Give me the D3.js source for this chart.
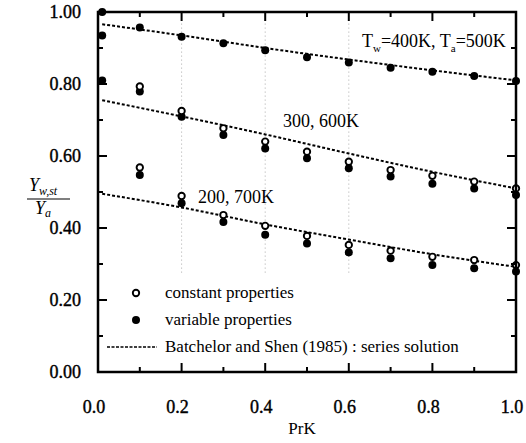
<!DOCTYPE html>
<html>
<head>
<meta charset="utf-8">
<script src="https://cdn.jsdelivr.net/npm/d3@7"></script>
<style>
  html, body { margin: 0; padding: 0; background: #fff; }
  svg { display: block; }
  text { font-family: "Liberation Serif", "Times New Roman", serif; fill: #000; }
</style>
</head>
<body>
<svg id="chart" width="526" height="443"></svg>
<script>
// ---- data ----
const prk = [0.01, 0.1, 0.2, 0.3, 0.4, 0.5, 0.6, 0.7, 0.8, 0.9, 1.0];

// Tw=400K, Ta=500K
const var400 = [1.00, 0.957, 0.931, 0.913, 0.894, 0.874, 0.860, 0.845, 0.834, 0.822, 0.808];
// Tw=300K, Ta=600K
const const300 = [null, 0.793, 0.725, 0.677, 0.640, 0.612, 0.584, 0.561, 0.545, 0.529, 0.510];
const var300 = [0.935, 0.779, 0.709, 0.658, 0.621, 0.594, 0.566, 0.543, 0.523, 0.510, 0.492];
// Tw=200K, Ta=700K
const const200 = [null, 0.568, 0.489, 0.436, 0.406, 0.378, 0.353, 0.337, 0.320, 0.311, 0.297];
const var200 = [0.81, 0.547, 0.469, 0.417, 0.381, 0.357, 0.332, 0.316, 0.297, 0.288, 0.279];

// Batchelor and Shen (1985) series solution
const lineX = [0.01, 0.2, 0.4, 0.6, 0.8, 1.0];
const line400 = [0.966, 0.935, 0.900, 0.868, 0.838, 0.810];
const line300 = [0.755, 0.710, 0.660, 0.607, 0.556, 0.510];
const line200 = [0.495, 0.457, 0.410, 0.368, 0.327, 0.292];

const xTicks = [0.0, 0.2, 0.4, 0.6, 0.8, 1.0];
const yTicks = [0.00, 0.20, 0.40, 0.60, 0.80, 1.00];
const xMinor = [0.1, 0.3, 0.5, 0.7, 0.9];
const gridX = [0.2, 0.4, 0.6];

const legendItems = ["constant properties", "variable properties", "Batchelor and Shen (1985) : series solution"];

// ---- layout ----
const svg = d3.select("#chart");
const L = 98, R = 516, T = 12, B = 372;
const x = d3.scaleLinear().domain([0, 1]).range([L, R]);
const y = d3.scaleLinear().domain([0, 1]).range([B, T]);

// faint gridlines
svg.append("g").selectAll("line").data(gridX).join("line")
  .attr("x1", d => x(d)).attr("x2", d => x(d))
  .attr("y1", y(0.99)).attr("y2", y(0.27))
  .attr("stroke", "#aaa").attr("stroke-width", 1)
  .attr("stroke-dasharray", "1,3");

// series lines
const lineGen = d3.line().x(d => x(d[0])).y(d => y(d[1])).curve(d3.curveMonotoneX);
[line400, line300, line200].forEach(arr => {
  svg.append("path")
    .attr("d", lineGen(lineX.map((v, i) => [v, arr[i]])))
    .attr("fill", "none").attr("stroke", "#000")
    .attr("stroke-width", 2).attr("stroke-dasharray", "3,2");
});

// points
function pts(arr) { return prk.map((v, i) => [v, arr[i]]).filter(d => d[1] != null); }
[var400, var300, var200].forEach(arr => {
  svg.append("g").selectAll("circle").data(pts(arr)).join("circle")
    .attr("cx", d => x(d[0])).attr("cy", d => y(d[1])).attr("r", 4)
    .attr("fill", "#000");
});
[const300, const200].forEach(arr => {
  svg.append("g").selectAll("circle").data(pts(arr)).join("circle")
    .attr("cx", d => x(d[0])).attr("cy", d => y(d[1])).attr("r", 3.2)
    .attr("fill", "#fff").attr("stroke", "#000").attr("stroke-width", 1.9);
});

// frame
svg.append("rect").attr("x", L).attr("y", T).attr("width", R - L).attr("height", B - T)
  .attr("fill", "none").attr("stroke", "#000").attr("stroke-width", 2.5);

// ticks (inward, all four sides)
const tk = svg.append("g").attr("stroke", "#000").attr("stroke-width", 2);
function ticks(vals, len) {
  vals.forEach(v => {
    tk.append("line").attr("x1", x(v)).attr("x2", x(v)).attr("y1", B).attr("y2", B - len);
    tk.append("line").attr("x1", x(v)).attr("x2", x(v)).attr("y1", T).attr("y2", T + len);
    tk.append("line").attr("y1", y(v)).attr("y2", y(v)).attr("x1", L).attr("x2", L + len);
    tk.append("line").attr("y1", y(v)).attr("y2", y(v)).attr("x1", R).attr("x2", R - len);
  });
}
ticks(xTicks, 9);
ticks(xMinor, 5);

// tick labels
svg.append("g").selectAll("text").data(xTicks).join("text")
  .attr("x", d => x(d) - 4).attr("y", 413)
  .attr("text-anchor", "middle").attr("font-size", 18)
  .attr("stroke", "#000").attr("stroke-width", 0.4)
  .text(d => d.toFixed(1));
svg.append("g").selectAll("text").data(yTicks).join("text")
  .attr("x", 81).attr("y", d => y(d) + 6)
  .attr("text-anchor", "end").attr("font-size", 18)
  .attr("stroke", "#000").attr("stroke-width", 0.4)
  .text(d => d.toFixed(2));

// axis titles
svg.append("text").attr("x", 302).attr("y", 434).attr("text-anchor", "middle")
  .attr("font-size", 17).text("PrK");

const yl = svg.append("text").attr("x", 29).attr("y", 191).attr("font-size", 18).attr("font-style", "italic");
yl.append("tspan").text("Y");
yl.append("tspan").attr("font-size", 12).attr("dy", 4).text("w,st");
svg.append("line").attr("x1", 27).attr("x2", 70).attr("y1", 199).attr("y2", 199)
  .attr("stroke", "#000").attr("stroke-width", 1.2);
const yl2 = svg.append("text").attr("x", 35).attr("y", 214).attr("font-size", 18).attr("font-style", "italic");
yl2.append("tspan").text("Y");
yl2.append("tspan").attr("font-size", 12).attr("dy", 3).text("a");

// annotations
const a1 = svg.append("text").attr("x", 362).attr("y", 47).attr("font-size", 18);
a1.append("tspan").text("T");
a1.append("tspan").attr("font-size", 11).attr("dy", 5).text("w");
a1.append("tspan").attr("dy", -5).text("=400K, T");
a1.append("tspan").attr("font-size", 11).attr("dy", 5).text("a");
a1.append("tspan").attr("dy", -5).text("=500K");

svg.append("text").attr("x", 283).attr("y", 127).attr("font-size", 18).text("300, 600K");
svg.append("text").attr("x", 198).attr("y", 203).attr("font-size", 18).text("200, 700K");

// legend
const lg = svg.append("g");
lg.append("circle").attr("cx", 136).attr("cy", 293).attr("r", 3.2)
  .attr("fill", "#fff").attr("stroke", "#000").attr("stroke-width", 1.9);
lg.append("circle").attr("cx", 136).attr("cy", 320).attr("r", 4).attr("fill", "#000");
lg.append("line").attr("x1", 107).attr("x2", 157).attr("y1", 347).attr("y2", 347)
  .attr("stroke", "#000").attr("stroke-width", 1.3).attr("stroke-dasharray", "3,1.5");
lg.selectAll("text.leg").data(legendItems).join("text").attr("class", "leg")
  .attr("x", 165).attr("y", (d, i) => 298 + i * 27)
  .attr("font-size", 17).text(d => d);
</script>
</body>
</html>
